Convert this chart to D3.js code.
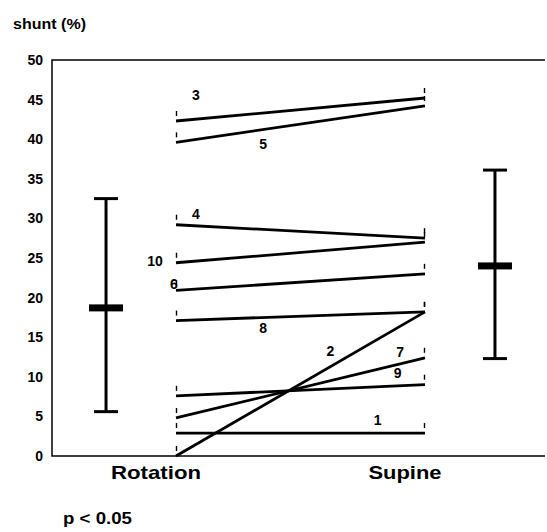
<!DOCTYPE html>
<html>
<head>
<meta charset="utf-8">
<script src="https://cdn.jsdelivr.net/npm/d3@7"></script>
<style>
    body { margin: 0; background: #fff; }
    svg { display: block; }
    text { font-family: Arial, "Liberation Sans", sans-serif; font-weight: bold; fill: #000; }
</style>
</head>
<body>
<svg id="chart" width="547" height="532"></svg>
<script>
"use strict";

// categories on the x axis
var categories = ['Rotation', 'Supine'];

// patient ids and their shunt (%) in each position
var patients = [1, 2, 3, 4, 5, 6, 7, 8, 9, 10];
var rotationValues = [2.9, 0, 42.3, 29.2, 39.6, 20.9, 4.8, 17.1, 7.6, 24.4];
var supineValues = [2.9, 18.2, 45.2, 27.5, 44.2, 23.0, 12.4, 18.2, 9.0, 27.0];

// group summaries: mean and whisker ends
var groupMeans = [18.7, 24.0];
var groupLow = [5.6, 12.3];
var groupHigh = [32.5, 36.1];

// y tick labels
var yTicks = [0, 5, 10, 15, 20, 25, 30, 35, 40, 45, 50];

// where each patient label sits: fraction along its line, pixel nudges
var labelPlacement = [
    {t: 0.81, dx: 0, dy: -13},
    {t: 0.62, dx: 0, dy: -16},
    {t: 0.08, dx: 0, dy: -24},
    {t: 0.08, dx: 0, dy: -12},
    {t: 0.35, dx: 0, dy: 14},
    {t: 0, dx: -2, dy: -6},
    {t: 0.9, dx: 0, dy: -12},
    {t: 0.35, dx: 0, dy: 10},
    {t: 0.89, dx: 0, dy: -13},
    {t: 0, dx: -21, dy: -2}
];

var svg = d3.select('#chart');

var frame = {left: 52, top: 60, right: 545, bottom: 456};

var y = d3.scaleLinear()
    .domain([0, 50])
    .range([frame.bottom, frame.top]);

// 0 = Rotation, 1 = Supine; the summary bars sit just outside
var x = d3.scaleLinear()
    .domain([0, 1])
    .range([176, 425]);

var barOffset = 0.281;

// frame: top, left and bottom only
svg.append('path')
    .attr('d', 'M' + frame.right + ',' + frame.top + 'H' + frame.left + 'V' + frame.bottom + 'H' + frame.right)
    .attr('fill', 'none')
    .attr('stroke', '#000')
    .attr('stroke-width', 1.5);

// y axis labels
var yAxis = d3.axisLeft(y)
    .tickValues(yTicks)
    .tickSize(0)
    .tickPadding(9);

var yAxisG = svg.append('g')
    .attr('transform', 'translate(' + frame.left + ',0)')
    .call(yAxis);

yAxisG.attr('font-size', null).attr('font-family', null);
yAxisG.select('.domain').remove();
yAxisG.selectAll('text')
    .style('font-size', '14px')
    .attr('fill', '#000');

svg.append('text')
    .attr('x', 13)
    .attr('y', 29)
    .attr('font-size', 15)
    .attr('textLength', 73)
    .attr('lengthAdjust', 'spacingAndGlyphs')
    .text('shunt (%)');

// patient lines
var rows = patients.map(function(id, i) {
    return {id: id, a: rotationValues[i], b: supineValues[i], place: labelPlacement[i]};
});

svg.append('g')
    .selectAll('line')
    .data(rows)
    .enter()
    .append('line')
    .attr('x1', x(0))
    .attr('y1', function(d) { return y(d.a); })
    .attr('x2', x(1))
    .attr('y2', function(d) { return y(d.b); })
    .attr('stroke', '#000')
    .attr('stroke-width', 2.8);

// small marks above each end point
var ends = [];
rows.forEach(function(d) {
    ends.push({px: 0, v: d.a});
    ends.push({px: 1, v: d.b});
});

svg.append('g')
    .selectAll('line')
    .data(ends)
    .enter()
    .append('line')
    .attr('x1', function(d) { return x(d.px) + (d.px ? -0.5 : 0.5); })
    .attr('x2', function(d) { return x(d.px) + (d.px ? -0.5 : 0.5); })
    .attr('y1', function(d) { return y(d.v) - 10; })
    .attr('y2', function(d) { return y(d.v) - 5; })
    .attr('stroke', '#000')
    .attr('stroke-width', 1.4);

svg.append('g')
    .selectAll('text')
    .data(rows)
    .enter()
    .append('text')
    .attr('x', function(d) { return x(d.place.t) + d.place.dx; })
    .attr('y', function(d) {
        var v = d.a + (d.b - d.a) * d.place.t;
        return y(v) + d.place.dy + 5;
    })
    .attr('text-anchor', 'middle')
    .attr('font-size', 14)
    .text(function(d) { return d.id; });

// group summary bars
var groups = categories.map(function(name, i) {
    return {
        name: name,
        pos: i === 0 ? -barOffset : 1 + barOffset,
        mean: groupMeans[i],
        low: groupLow[i],
        high: groupHigh[i]
    };
});

var g = svg.append('g')
    .selectAll('g')
    .data(groups)
    .enter()
    .append('g')
    .attr('transform', function(d) { return 'translate(' + x(d.pos) + ',0)'; });

g.append('line')
    .attr('y1', function(d) { return y(d.low); })
    .attr('y2', function(d) { return y(d.high); })
    .attr('stroke', '#000')
    .attr('stroke-width', 3);

g.selectAll('.cap')
    .data(function(d) { return [d.low, d.high]; })
    .enter()
    .append('line')
    .attr('class', 'cap')
    .attr('x1', -12)
    .attr('x2', 12)
    .attr('y1', function(v) { return y(v); })
    .attr('y2', function(v) { return y(v); })
    .attr('stroke', '#000')
    .attr('stroke-width', 3);

g.append('rect')
    .attr('x', -17)
    .attr('width', 34)
    .attr('y', function(d) { return y(d.mean) - 3.5; })
    .attr('height', 7)
    .attr('fill', '#000');

// category labels
svg.append('g')
    .selectAll('text')
    .data(categories)
    .enter()
    .append('text')
    .attr('x', function(d, i) { return x(i) - 20; })
    .attr('y', 479)
    .attr('text-anchor', 'middle')
    .attr('font-size', 19)
    .attr('textLength', function(d, i) { return i === 0 ? 90 : 73; })
    .attr('lengthAdjust', 'spacingAndGlyphs')
    .text(function(d) { return d; });

svg.append('text')
    .attr('x', 63)
    .attr('y', 524)
    .attr('font-size', 16)
    .attr('textLength', 69)
    .attr('lengthAdjust', 'spacingAndGlyphs')
    .text('p < 0.05');
</script>
</body>
</html>
